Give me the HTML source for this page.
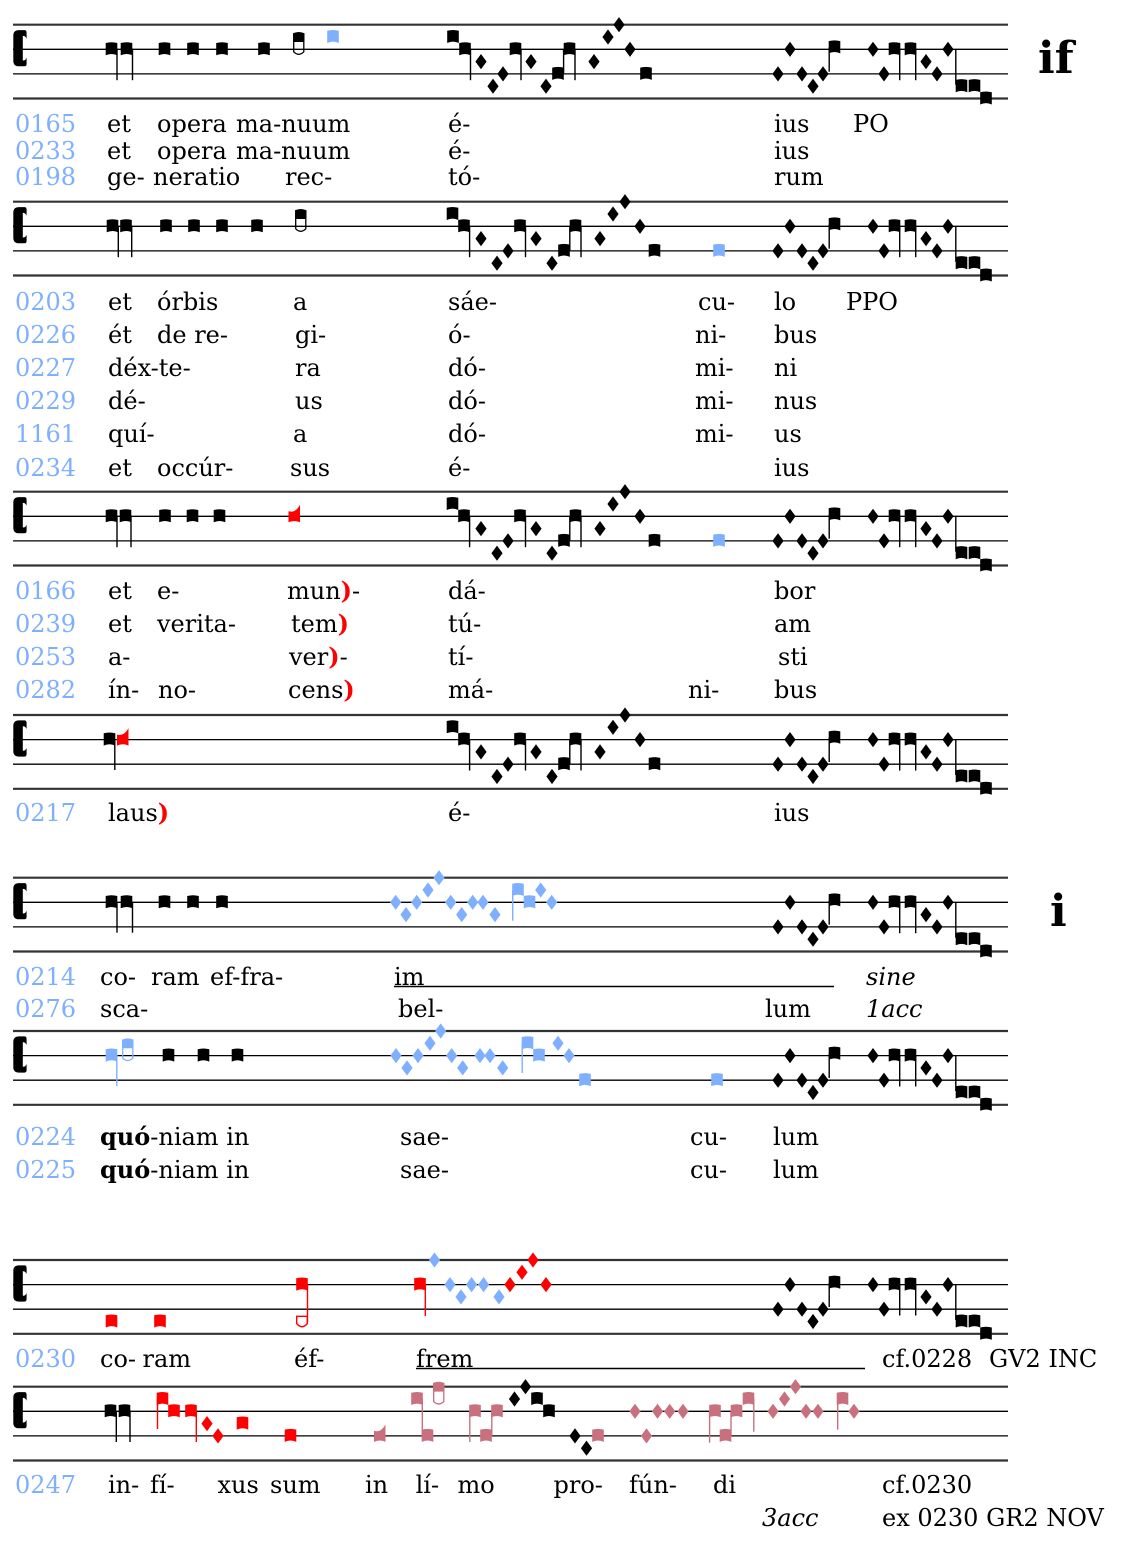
<!DOCTYPE html>
<html><head><meta charset="utf-8"><style>
html,body{margin:0;padding:0;background:#fff}
svg{display:block}
.t{font-family:"DejaVu Serif","Liberation Serif",serif;font-size:24px;fill:#000}
.b{fill:#7fb0ff}
.i{font-style:italic}
</style></head><body>
<svg width="1137" height="1549" viewBox="0 0 1137 1549" xmlns="http://www.w3.org/2000/svg" xmlns:xlink="http://www.w3.org/1999/xlink">
<defs>
<path id="n" d="M-5.8,-6.3 Q0,-7.8 5.8,-6.3 L5.8,6 Q0,3.3 -5.8,6 Z"/>
<path id="d" d="M0,-7.6 L5.6,0 L0,7.6 L-5.6,0 Z"/>
<path id="lq" d="M0,-5 Q7,-3 11.5,-11.5 L11.5,6 Q5.75,3.3 0,6 Z"/>
<g id="hp"><path stroke="none" d="M0,-16 Q5.75,-18.5 11.5,-16 L11.5,-8 L0,-8 Z"/><path fill="none" stroke-width="1.3" d="M0.7,-8 L0.7,2.5 Q5.75,7.5 10.8,2.5 L10.8,-8 Z"/></g>
<g id="st">
<line x1="13" x2="1008" y1="0" y2="0" stroke="#333" stroke-width="2.2"/>
<line x1="13" x2="1008" y1="24.6" y2="24.6" stroke="#000" stroke-width="1.3"/>
<line x1="13" x2="1008" y1="49.2" y2="49.2" stroke="#000" stroke-width="1.3"/>
<line x1="13" x2="1008" y1="73.8" y2="73.8" stroke="#333" stroke-width="2.2"/>
<path fill="#000" d="M13.3,11 Q13.3,5.4 19,5.4 L24.5,5.4 Q26.6,5.4 26.6,8 L26.6,14 Q25.5,11.2 23.2,11.2 L22.8,11.2 L22.8,35.8 L23.2,35.8 Q25.5,35.8 26.6,33 L26.6,39 Q26.6,41.6 24.5,41.6 L19,41.6 Q13.3,41.6 13.3,36 Z"/>
</g>
<g id="rg" fill="#000" stroke="#000">
<g stroke="none">
<use xlink:href="#d" x="778" y="49.2"/><use xlink:href="#d" x="790" y="24.6"/><use xlink:href="#d" x="802" y="49.2"/><use xlink:href="#d" x="813" y="61.5"/><use xlink:href="#d" x="823" y="49.2"/>
<use xlink:href="#n" x="834.5" y="22.7"/>
<use xlink:href="#d" x="873" y="24.6"/><use xlink:href="#d" x="884" y="49.2"/>
<use xlink:href="#n" x="894.5" y="24.6"/><use xlink:href="#n" x="910.5" y="24.6"/>
<use xlink:href="#d" x="926" y="36.9"/><use xlink:href="#d" x="937" y="49.2"/><use xlink:href="#d" x="948" y="24.6"/>
<use xlink:href="#n" x="961.5" y="61.5"/><use xlink:href="#n" x="974.5" y="61.5"/><use xlink:href="#n" x="986" y="73.8"/>
</g>
<g stroke-width="1.4">
<line x1="829.2" x2="829.2" y1="22.7" y2="47"/>
<line x1="899.7" x2="899.7" y1="24" y2="55.5"/>
<line x1="915.7" x2="915.7" y1="24" y2="55.5"/>
<line x1="955.8" x2="955.8" y1="24.6" y2="60"/>
</g>
</g>
<g id="mg" fill="#000" stroke="#000">
<g stroke="none">
<use xlink:href="#n" x="452.5" y="12.3"/><use xlink:href="#n" x="464" y="24.6"/>
<use xlink:href="#d" x="481" y="36.9"/><use xlink:href="#d" x="497" y="61.5"/><use xlink:href="#d" x="508" y="49.2"/>
<use xlink:href="#n" x="520" y="24.6"/>
<use xlink:href="#d" x="536" y="36.9"/><use xlink:href="#d" x="552" y="61.5"/>
<use xlink:href="#n" x="564" y="49.2"/><use xlink:href="#n" x="575.5" y="24.6"/>
<use xlink:href="#d" x="600" y="36.9"/><use xlink:href="#d" x="613" y="12.3"/><use xlink:href="#d" x="625" y="0"/><use xlink:href="#d" x="640" y="24.6"/>
<use xlink:href="#n" x="654.5" y="49.2"/>
</g>
<g stroke-width="1.4">
<line x1="469.6" x2="469.6" y1="24" y2="55.5"/>
<line x1="525.5" x2="525.5" y1="24" y2="55.5"/>
<line x1="569.8" x2="569.8" y1="24.6" y2="49.2"/>
<line x1="581" x2="581" y1="24" y2="55.5"/>
</g>
</g>
</defs>

<!-- STAFF 1 -->
<g transform="translate(0,24.7)">
<use xlink:href="#st"/>
<g fill="#000">
<use xlink:href="#n" x="111.5" y="24.6"/><use xlink:href="#n" x="126.5" y="24.6"/>
<use xlink:href="#n" x="164.5" y="24.6"/><use xlink:href="#n" x="193" y="24.6"/><use xlink:href="#n" x="222" y="24.6"/><use xlink:href="#n" x="264" y="24.6"/>
<use xlink:href="#hp" x="293" y="24.6" fill="#000" stroke="#000"/>
<use xlink:href="#n" x="333" y="12.3" fill="#7fb0ff"/>
<use xlink:href="#n" x="453" y="12.3"/><use xlink:href="#n" x="465" y="24.6"/>
<use xlink:href="#d" x="481" y="36.9"/><use xlink:href="#d" x="493" y="61.5"/><use xlink:href="#d" x="503" y="49.2"/>
<use xlink:href="#n" x="515.5" y="24.6"/>
<use xlink:href="#d" x="531" y="36.9"/><use xlink:href="#d" x="546" y="61.5"/>
<use xlink:href="#n" x="558" y="49.2"/><use xlink:href="#n" x="569.5" y="24.6"/>
<use xlink:href="#d" x="594" y="36.9"/><use xlink:href="#d" x="608" y="12.3"/><use xlink:href="#d" x="619" y="0"/><use xlink:href="#d" x="630" y="24.6"/>
<use xlink:href="#n" x="646" y="49.2"/>
</g>
<g stroke="#000" stroke-width="1.4">
<line x1="117" x2="117" y1="24" y2="55.5"/><line x1="132.5" x2="132.5" y1="24" y2="55.5"/>
<line x1="470.5" x2="470.5" y1="24" y2="55.5"/>
<line x1="521" x2="521" y1="24" y2="55.5"/>
<line x1="563.6" x2="563.6" y1="24.6" y2="49.2"/>
<line x1="575" x2="575" y1="24" y2="55.5"/>
</g>
<use xlink:href="#rg"/>
</g>

<!-- STAFF 2 -->
<g transform="translate(0,201.7)">
<use xlink:href="#st"/>
<g fill="#000">
<use xlink:href="#n" x="112.5" y="24.6"/><use xlink:href="#n" x="126" y="24.6"/>
<use xlink:href="#n" x="166" y="24.6"/><use xlink:href="#n" x="194" y="24.6"/><use xlink:href="#n" x="222" y="24.6"/><use xlink:href="#n" x="257" y="24.6"/>
<use xlink:href="#hp" x="295" y="24.6" fill="#000" stroke="#000"/>
<use xlink:href="#n" x="719" y="49.2" fill="#7fb0ff"/>
</g>
<g stroke="#000" stroke-width="1.4">
<line x1="118.3" x2="118.3" y1="24" y2="55.5"/><line x1="131.7" x2="131.7" y1="24" y2="55.5"/>
</g>
<use xlink:href="#mg"/>
<use xlink:href="#rg"/>
</g>

<!-- STAFF 3 -->
<g transform="translate(0,491.7)">
<use xlink:href="#st"/>
<g fill="#000">
<use xlink:href="#n" x="111.5" y="24.6"/><use xlink:href="#n" x="125.5" y="24.6"/>
<use xlink:href="#n" x="165" y="24.6"/><use xlink:href="#n" x="192.5" y="24.6"/><use xlink:href="#n" x="219.5" y="24.6"/>
<use xlink:href="#lq" x="288.5" y="24.6" fill="#f00"/>
<use xlink:href="#n" x="719" y="49.2" fill="#7fb0ff"/>
</g>
<g stroke="#000" stroke-width="1.4">
<line x1="117" x2="117" y1="24" y2="55.5"/><line x1="131" x2="131" y1="24" y2="55.5"/>
</g>
<use xlink:href="#mg"/>
<use xlink:href="#rg"/>
</g>

<!-- STAFF 4 -->
<g transform="translate(0,715)">
<use xlink:href="#st"/>
<use xlink:href="#n" x="109.5" y="24.6" fill="#000"/>
<line x1="114.8" x2="114.8" y1="24" y2="55" stroke="#000" stroke-width="1.4"/>
<use xlink:href="#lq" x="117" y="24.6" fill="#f00"/>
<use xlink:href="#mg"/>
<use xlink:href="#rg"/>
</g>

<!-- STAFF 5 -->
<g transform="translate(0,877.7)">
<use xlink:href="#st"/>
<g fill="#000">
<use xlink:href="#n" x="111.5" y="24.6"/><use xlink:href="#n" x="126.5" y="24.6"/>
<use xlink:href="#n" x="164.5" y="24.6"/><use xlink:href="#n" x="193" y="24.6"/><use xlink:href="#n" x="222" y="24.6"/>
</g>
<g stroke="#000" stroke-width="1.4">
<line x1="117" x2="117" y1="24" y2="55"/><line x1="132.5" x2="132.5" y1="24" y2="55"/>
</g>
<g fill="#7fb0ff">
<use xlink:href="#d" x="395.7" y="24.6"/><use xlink:href="#d" x="406" y="36.9"/><use xlink:href="#d" x="416.7" y="24.6"/><use xlink:href="#d" x="428" y="12.3"/><use xlink:href="#d" x="439" y="0"/>
<use xlink:href="#d" x="450.7" y="24.6"/><use xlink:href="#d" x="461.7" y="36.9"/><use xlink:href="#d" x="472.7" y="24.6"/><use xlink:href="#d" x="483" y="24.6"/><use xlink:href="#d" x="495" y="36.9"/>
<use xlink:href="#n" x="518" y="12.3"/><use xlink:href="#n" x="529.5" y="24.6"/>
<use xlink:href="#d" x="540.7" y="12.3"/><use xlink:href="#d" x="551.7" y="24.6"/>
</g>
<line x1="512.7" x2="512.7" y1="12.3" y2="43" stroke="#7fb0ff" stroke-width="1.4"/>
<use xlink:href="#rg"/>
</g>

<!-- STAFF 6 -->
<g transform="translate(0,1031)">
<use xlink:href="#st"/>
<g fill="#7fb0ff">
<use xlink:href="#n" x="111.5" y="24.6"/>
<use xlink:href="#hp" x="122" y="24.6" stroke="#7fb0ff"/>
<use xlink:href="#d" x="396" y="24.6"/><use xlink:href="#d" x="407" y="36.9"/><use xlink:href="#d" x="418" y="24.6"/><use xlink:href="#d" x="430" y="12.3"/><use xlink:href="#d" x="440.7" y="0"/>
<use xlink:href="#d" x="451.7" y="24.6"/><use xlink:href="#d" x="462.7" y="36.9"/><use xlink:href="#d" x="480" y="24.6"/><use xlink:href="#d" x="490" y="24.6"/><use xlink:href="#d" x="502.7" y="36.9"/>
<use xlink:href="#n" x="527.5" y="12.3"/><use xlink:href="#n" x="539" y="24.6"/>
<use xlink:href="#d" x="558" y="12.3"/><use xlink:href="#d" x="569" y="24.6"/>
<use xlink:href="#n" x="585" y="49.2"/><use xlink:href="#n" x="717" y="49.2"/>
</g>
<g stroke="#7fb0ff" stroke-width="1.4">
<line x1="116.8" x2="116.8" y1="24" y2="55"/>
<line x1="522.2" x2="522.2" y1="12.3" y2="42"/>
</g>
<g fill="#000">
<use xlink:href="#n" x="168.5" y="24.6"/><use xlink:href="#n" x="203.5" y="24.6"/><use xlink:href="#n" x="237.5" y="24.6"/>
</g>
<use xlink:href="#rg"/>
</g>

<!-- STAFF 7 -->
<g transform="translate(0,1260)">
<use xlink:href="#st"/>
<g fill="#f00">
<use xlink:href="#n" x="111.5" y="61.5"/><use xlink:href="#n" x="160" y="61.5"/>
<use xlink:href="#n" x="302" y="24.6"/>
<use xlink:href="#n" x="420" y="24.6"/>
<use xlink:href="#d" x="510" y="24.6"/><use xlink:href="#d" x="522" y="12.3"/><use xlink:href="#d" x="533" y="0"/><use xlink:href="#d" x="546" y="24.6"/>
</g>
<g stroke="#f00" stroke-width="1.4" fill="none">
<line x1="307.5" x2="307.5" y1="24" y2="62"/>
<path d="M296.7,56.3 L296.7,63.5 Q302,70 307.3,63.5 L307.3,56.3 Z"/>
<line x1="425.3" x2="425.3" y1="24" y2="56"/>
</g>
<g fill="#7fb0ff">
<use xlink:href="#d" x="434.5" y="0"/><use xlink:href="#d" x="450" y="24.6"/><use xlink:href="#d" x="461" y="36.9"/><use xlink:href="#d" x="471.6" y="24.6"/><use xlink:href="#d" x="483.6" y="24.6"/><use xlink:href="#d" x="499" y="36.9"/>
</g>
<use xlink:href="#rg"/>
</g>

<!-- STAFF 8 -->
<g transform="translate(0,1386.7)">
<use xlink:href="#st"/>
<g fill="#000">
<use xlink:href="#n" x="110.5" y="24.6"/><use xlink:href="#n" x="124.5" y="24.6"/>
<use xlink:href="#d" x="514.5" y="12.3"/><use xlink:href="#d" x="525.5" y="0"/>
<use xlink:href="#n" x="537" y="12.3"/><use xlink:href="#n" x="549" y="24.6"/>
<use xlink:href="#d" x="575" y="49.2"/><use xlink:href="#d" x="586.5" y="61.5"/>
</g>
<g stroke="#000" stroke-width="1.4">
<line x1="116.3" x2="116.3" y1="24" y2="55.3"/><line x1="130" x2="130" y1="24" y2="55.3"/>
</g>
<g fill="#f00">
<use xlink:href="#n" x="162.5" y="12.3"/><use xlink:href="#n" x="174" y="24.6"/><use xlink:href="#n" x="191" y="24.6"/>
<use xlink:href="#d" x="207" y="36.9"/><use xlink:href="#d" x="218" y="49.2"/>
<use xlink:href="#n" x="242.5" y="36.9"/><use xlink:href="#n" x="290.5" y="49.2"/>
</g>
<g stroke="#f00" stroke-width="1.4">
<line x1="157.5" x2="157.5" y1="12.3" y2="42.3"/>
<line x1="196.3" x2="196.3" y1="24" y2="55.3"/>
</g>
<g fill="#c9707f">
<use xlink:href="#lq" x="374" y="49.2"/>
<use xlink:href="#n" x="417" y="12.3"/><use xlink:href="#n" x="427.5" y="49.2"/>
<use xlink:href="#hp" x="433" y="12.3" stroke="#c9707f"/>
<use xlink:href="#n" x="475" y="24.6"/><use xlink:href="#n" x="486" y="49.2"/><use xlink:href="#n" x="497" y="24.6"/>
<use xlink:href="#n" x="598" y="49.2"/>
<use xlink:href="#d" x="635" y="24.6"/><use xlink:href="#d" x="646.5" y="49.2"/><use xlink:href="#d" x="657.5" y="24.6"/><use xlink:href="#d" x="669.7" y="24.6"/><use xlink:href="#d" x="683" y="24.6"/>
<use xlink:href="#n" x="715" y="24.6"/><use xlink:href="#n" x="725.5" y="49.2"/><use xlink:href="#n" x="736.5" y="24.6"/><use xlink:href="#n" x="748.5" y="12.3"/>
<use xlink:href="#d" x="773" y="24.6"/><use xlink:href="#d" x="784.5" y="12.3"/><use xlink:href="#d" x="795.5" y="0"/><use xlink:href="#d" x="806" y="24.6"/><use xlink:href="#d" x="818" y="24.6"/>
<use xlink:href="#n" x="842.5" y="12.3"/>
<use xlink:href="#d" x="854" y="24.6"/>
</g>
<g stroke="#c9707f" stroke-width="1.4">
<line x1="422.3" x2="422.3" y1="12.3" y2="49.2"/>
<line x1="469.8" x2="469.8" y1="24.6" y2="55.3"/>
<line x1="491.8" x2="491.8" y1="24.6" y2="49.2"/>
<line x1="709.6" x2="709.6" y1="24.6" y2="56"/>
<line x1="731" x2="731" y1="24.6" y2="49.2"/>
<line x1="753.8" x2="753.8" y1="12.3" y2="45"/>
<line x1="837.7" x2="837.7" y1="12.3" y2="43"/>
</g>
</g>

<!-- big letters -->
<text x="1038" y="73" font-family="DejaVu Serif, Liberation Serif, serif" font-size="44" font-weight="bold">if</text>
<text x="1050" y="926" font-family="DejaVu Serif, Liberation Serif, serif" font-size="44" font-weight="bold">i</text>

<!-- TEXT staff 1 -->
<g class="t">
<text class="t b" x="15" y="132">0165</text><text class="t" x="107" y="132">et</text><text class="t" x="157" y="132">opera</text><text class="t" x="236" y="132">ma-nuum</text><text class="t" x="448" y="132">é-</text><text class="t" x="774" y="132">ius</text><text class="t" x="853" y="132">PO</text>
<text class="t b" x="15" y="159">0233</text><text class="t" x="107" y="159">et</text><text class="t" x="157" y="159">opera</text><text class="t" x="236" y="159">ma-nuum</text><text class="t" x="448" y="159">é-</text><text class="t" x="774" y="159">ius</text>
<text class="t b" x="15" y="185">0198</text><text class="t" x="107" y="185">ge-</text><text class="t" x="153" y="185">neratio</text><text class="t" x="285" y="185">rec-</text><text class="t" x="448" y="185">tó-</text><text class="t" x="774" y="185">rum</text>

<!-- staff 2 text -->
<text class="t b" x="15" y="310">0203</text><text class="t" x="108" y="310">et</text><text class="t" x="157" y="310">órbis</text><text class="t" x="293" y="310">a</text><text class="t" x="448" y="310">sáe-</text><text class="t" x="698" y="310">cu-</text><text class="t" x="774" y="310">lo</text><text class="t" x="846" y="310">PPO</text>
<text class="t b" x="15" y="343">0226</text><text class="t" x="108" y="343">ét</text><text class="t" x="157" y="343">de re-</text><text class="t" x="295" y="343">gi-</text><text class="t" x="448" y="343">ó-</text><text class="t" x="695" y="343">ni-</text><text class="t" x="774" y="343">bus</text>
<text class="t b" x="15" y="376">0227</text><text class="t" x="108" y="376">déx-te-</text><text class="t" x="295" y="376">ra</text><text class="t" x="448" y="376">dó-</text><text class="t" x="695" y="376">mi-</text><text class="t" x="774" y="376">ni</text>
<text class="t b" x="15" y="409">0229</text><text class="t" x="108" y="409">dé-</text><text class="t" x="295" y="409">us</text><text class="t" x="448" y="409">dó-</text><text class="t" x="695" y="409">mi-</text><text class="t" x="774" y="409">nus</text>
<text class="t b" x="15" y="442">1161</text><text class="t" x="108" y="442">quí-</text><text class="t" x="293" y="442">a</text><text class="t" x="448" y="442">dó-</text><text class="t" x="695" y="442">mi-</text><text class="t" x="774" y="442">us</text>
<text class="t b" x="15" y="476">0234</text><text class="t" x="108" y="476">et</text><text class="t" x="157" y="476">occúr-</text><text class="t" x="290" y="476">sus</text><text class="t" x="448" y="476">é-</text><text class="t" x="774" y="476">ius</text>

<!-- staff 3 text -->
<text class="t b" x="15" y="599">0166</text><text class="t" x="108" y="599">et</text><text class="t" x="157" y="599">e-</text><text class="t" x="287" y="599">mun<tspan fill="#f00" font-weight="bold">)</tspan>-</text><text class="t" x="448" y="599">dá-</text><text class="t" x="774" y="599">bor</text>
<text class="t b" x="15" y="632">0239</text><text class="t" x="108" y="632">et</text><text class="t" x="157" y="632">verita-</text><text class="t" x="291" y="632">tem<tspan fill="#f00" font-weight="bold">)</tspan></text><text class="t" x="448" y="632">tú-</text><text class="t" x="774" y="632">am</text>
<text class="t b" x="15" y="665">0253</text><text class="t" x="108" y="665">a-</text><text class="t" x="289" y="665">ver<tspan fill="#f00" font-weight="bold">)</tspan>-</text><text class="t" x="448" y="665">tí-</text><text class="t" x="778" y="665">sti</text>
<text class="t b" x="15" y="698">0282</text><text class="t" x="108" y="698">ín-</text><text class="t" x="158" y="698">no-</text><text class="t" x="288" y="698">cens<tspan fill="#f00" font-weight="bold">)</tspan></text><text class="t" x="448" y="698">má-</text><text class="t" x="688" y="698">ni-</text><text class="t" x="774" y="698">bus</text>

<!-- staff 4 text -->
<text class="t b" x="15" y="821">0217</text><text class="t" x="108" y="821">laus<tspan fill="#f00" font-weight="bold">)</tspan></text><text class="t" x="448" y="821">é-</text><text class="t" x="774" y="821">ius</text>

<!-- staff 5 text -->
<text class="t b" x="15" y="985">0214</text><text class="t" x="100" y="985">co-</text><text class="t" x="151" y="985">ram</text><text class="t" x="210" y="985">ef-fra-</text><text class="t" x="394" y="985">im</text><text class="t i" x="866" y="985">sine</text>
<text class="t b" x="15" y="1017">0276</text><text class="t" x="100" y="1017">sca-</text><text class="t" x="398" y="1017">bel-</text><text class="t" x="765" y="1017">lum</text><text class="t i" x="866" y="1017">1acc</text>

<!-- staff 6 text -->
<text class="t b" x="15" y="1145">0224</text><text class="t" x="100" y="1145"><tspan font-weight="bold">quó</tspan>-niam in</text><text class="t" x="400" y="1145">sae-</text><text class="t" x="690" y="1145">cu-</text><text class="t" x="773" y="1145">lum</text>
<text class="t b" x="15" y="1178">0225</text><text class="t" x="100" y="1178"><tspan font-weight="bold">quó</tspan>-niam in</text><text class="t" x="400" y="1178">sae-</text><text class="t" x="690" y="1178">cu-</text><text class="t" x="773" y="1178">lum</text>

<!-- staff 7 text -->
<text class="t b" x="15" y="1367">0230</text><text class="t" x="100" y="1367">co-</text><text class="t" x="142.5" y="1367">ram</text><text class="t" x="294" y="1367">éf-</text><text class="t" x="416" y="1367">frem</text><text class="t" x="882" y="1367">cf.0228</text><text class="t" x="989" y="1367">GV2 INC</text>

<!-- staff 8 text -->
<text class="t b" x="15" y="1493">0247</text><text class="t" x="108" y="1493">in-</text><text class="t" x="150" y="1493">fí-</text><text class="t" x="217.5" y="1493">xus</text><text class="t" x="270" y="1493">sum</text><text class="t" x="365" y="1493">in</text><text class="t" x="415.6" y="1493">lí-</text><text class="t" x="457.5" y="1493">mo</text><text class="t" x="553.5" y="1493">pro-</text><text class="t" x="629" y="1493">fún-</text><text class="t" x="713" y="1493">di</text><text class="t" x="882" y="1493">cf.0230</text>
<text class="t i" x="762" y="1526">3acc</text><text class="t" x="882" y="1526">ex 0230 GR2 NOV</text>
</g>

<!-- underlines -->
<line x1="394" x2="834" y1="986.5" y2="986.5" stroke="#000" stroke-width="1.6"/>
<line x1="416" x2="865" y1="1368.5" y2="1368.5" stroke="#000" stroke-width="1.6"/>
</svg>
</body></html>
